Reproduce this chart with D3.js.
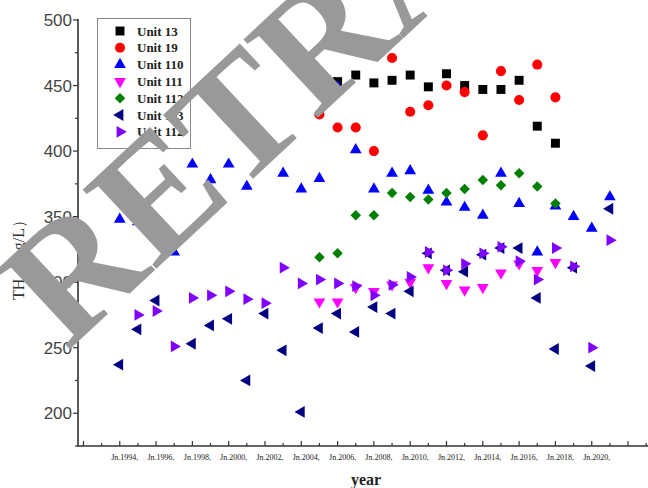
<!DOCTYPE html>
<html>
<head>
<meta charset="utf-8">
<script src="https://cdn.jsdelivr.net/npm/d3@7"></script>
<style>
    body { margin: 0; background: #fff; }
    #chart-area { width: 648px; height: 488px; }
</style>
</head>
<body>
<div id="chart-area"></div>
<script>
/* * * * * * * * * * * * * *
*      TH scatter plot     *
* * * * * * * * * * * * * */

const seriesNames = ["Unit 13", "Unit 19", "Unit 110", "Unit 111", "Unit 112", "Unit 113", "Unit 112"];
const seriesColors = ["#000000", "#ff0000", "#0000ff", "#ff00ff", "#008000", "#000080", "#8000ff"];
const seriesShapes = ["square", "circle", "up", "down", "diamond", "left", "right"];

const years13 = [2006, 2007, 2008, 2009, 2010, 2011, 2012, 2013, 2014, 2015, 2016, 2017, 2018];
const values13 = [453, 458, 452, 454, 458, 449, 459, 450, 447, 447, 454, 419, 406];

const years19 = [2005, 2006, 2007, 2008, 2009, 2010, 2011, 2012, 2013, 2014, 2015, 2016, 2017, 2018];
const values19 = [428, 418, 418, 400, 471, 430, 435, 450, 445, 412, 461, 439, 466, 441];

const years110 = [1994, 1995, 1997, 1998, 1999, 2000, 2001, 2002, 2003, 2004, 2005, 2006, 2007, 2008, 2009, 2010, 2011, 2012, 2013, 2014, 2015, 2016, 2017, 2018, 2019, 2020, 2021];
const values110 = [348, 346, 323, 390, 378, 390, 373, 401, 383, 371, 379, 449, 401, 371, 383, 385, 370, 361, 357, 351, 383, 360, 323, 358, 350, 341, 365];

const years111 = [2005, 2006, 2007, 2008, 2009, 2010, 2011, 2012, 2013, 2014, 2015, 2016, 2017, 2018];
const values111 = [285, 285, 296, 293, 298, 300, 311, 299, 294, 296, 307, 314, 309, 315];

const years112 = [2005, 2006, 2007, 2008, 2009, 2010, 2011, 2012, 2013, 2014, 2015, 2016, 2017, 2018];
const values112 = [319, 322, 351, 351, 368, 365, 363, 368, 371, 378, 374, 383, 373, 360];

const years113 = [1994, 1995, 1996, 1998, 1999, 2000, 2001, 2002, 2003, 2004, 2005, 2006, 2007, 2008, 2009, 2010, 2011, 2012, 2013, 2014, 2015, 2016, 2017, 2018, 2019, 2020, 2021];
const values113 = [237, 264, 286, 253, 267, 272, 225, 276, 248, 201, 265, 276, 262, 281, 276, 293, 322, 309, 308, 321, 326, 326, 288, 249, 311, 236, 356];

const years112b = [1995, 1996, 1997, 1998, 1999, 2000, 2001, 2002, 2003, 2004, 2005, 2006, 2007, 2008, 2009, 2010, 2011, 2012, 2013, 2014, 2015, 2016, 2017, 2018, 2019, 2020, 2021];
const values112b = [275, 278, 251, 288, 290, 293, 287, 284, 311, 299, 302, 299, 297, 290, 298, 304, 323, 309, 314, 322, 327, 316, 302, 326, 312, 250, 332];

const yTicks = [200, 250, 300, 350, 400, 450, 500];
const xLabelYears = [1994, 1996, 1998, 2000, 2002, 2004, 2006, 2008, 2010, 2012, 2014, 2016, 2018, 2020];

class ScatterVis {
    constructor(parentElement) {
        this.parentElement = parentElement;
        this.initVis();
    }

    initVis() {
        let vis = this;

        vis.width = 648;
        vis.height = 488;

        vis.svg = d3.select("#" + vis.parentElement).append("svg")
            .attr("width", vis.width)
            .attr("height", vis.height);

        // scales, fitted to the axis frame of the picture
        vis.x = d3.scaleLinear().domain([1991.7, 2023.1]).range([78, 648]);
        vis.y = d3.scaleLinear().domain([175, 500]).range([446, 20]);

        vis.wrangleData();
    }

    wrangleData() {
        let vis = this;

        let allYears = [years13, years19, years110, years111, years112, years113, years112b];
        let allValues = [values13, values19, values110, values111, values112, values113, values112b];

        vis.series = seriesNames.map((name, i) => ({
            name: name,
            color: seriesColors[i],
            shape: seriesShapes[i],
            points: allYears[i].map((yr, j) => ({year: yr, value: allValues[i][j]}))
        }));

        vis.updateVis();
    }

    symbolPath(shape) {
        if (shape === "square") return d3.symbol(d3.symbolSquare, 80)();
        if (shape === "circle") return d3.symbol(d3.symbolCircle, 80)();
        if (shape === "diamond") return d3.symbol(d3.symbolSquare, 55)();
        return d3.symbol(d3.symbolTriangle, 60)();
    }

    symbolRotate(shape) {
        // triangles all start pointing up
        return {down: 180, left: -90, right: 90, diamond: 45}[shape] || 0;
    }

    updateVis() {
        let vis = this;
        let axisColor = "#333";

        // y axis
        let yAxis = vis.svg.append("g").attr("class", "y-axis");
        yAxis.append("line")
            .attr("x1", 78).attr("x2", 78)
            .attr("y1", vis.y(500) - 1).attr("y2", vis.y(175))
            .attr("stroke", axisColor).attr("stroke-width", 1.6);

        yAxis.selectAll(".minor")
            .data(d3.range(175, 501, 25))
            .enter().append("line")
            .attr("x1", d => d % 50 === 0 ? 73 : 75).attr("x2", 78)
            .attr("y1", d => vis.y(d)).attr("y2", d => vis.y(d))
            .attr("stroke", axisColor).attr("stroke-width", 1.2);

        yAxis.selectAll(".ylab")
            .data(yTicks)
            .enter().append("text")
            .attr("x", 72)
            .attr("y", d => vis.y(d) + 6)
            .attr("text-anchor", "end")
            .attr("font-family", "Liberation Sans, Arial, sans-serif")
            .attr("font-size", 17)
            .attr("fill", "#444")
            .text(d => d);

        // x axis
        let xAxis = vis.svg.append("g").attr("class", "x-axis");
        xAxis.append("line")
            .attr("x1", 77).attr("x2", 648)
            .attr("y1", 446).attr("y2", 446)
            .attr("stroke", axisColor).attr("stroke-width", 1.6);

        xAxis.selectAll(".xtick")
            .data(d3.range(1992, 2024))
            .enter().append("line")
            .attr("x1", d => vis.x(d)).attr("x2", d => vis.x(d))
            .attr("y1", 446).attr("y2", d => d % 2 === 0 ? 441 : 443)
            .attr("stroke", axisColor).attr("stroke-width", 1.2);

        xAxis.selectAll(".xlab")
            .data(xLabelYears)
            .enter().append("text")
            .attr("x", d => vis.x(d) + 5)
            .attr("y", 460)
            .attr("text-anchor", "middle")
            .attr("font-family", "Liberation Serif, Times New Roman, serif")
            .attr("font-size", 8)
            .attr("fill", "#222")
            .text(d => "Jn." + d + ",");

        // axis titles
        vis.svg.append("text")
            .attr("x", 366).attr("y", 485)
            .attr("text-anchor", "middle")
            .attr("font-family", "Liberation Serif, Times New Roman, serif")
            .attr("font-weight", "bold")
            .attr("font-size", 16)
            .attr("fill", "#222")
            .text("year");

        vis.svg.append("text")
            .attr("transform", "translate(24,256) rotate(-90)")
            .attr("text-anchor", "middle")
            .attr("font-family", "Liberation Serif, Times New Roman, serif")
            .attr("font-size", 16)
            .attr("fill", "#333")
            .text("TH（mg/L）");

        // markers
        vis.series.forEach(s => {
            vis.svg.append("g")
                .selectAll("path")
                .data(s.points)
                .enter().append("path")
                .attr("d", vis.symbolPath(s.shape))
                .attr("transform", d => `translate(${vis.x(d.year)},${vis.y(d.value)}) rotate(${vis.symbolRotate(s.shape)})`)
                .attr("fill", s.color);
        });

        // legend
        let legend = vis.svg.append("g").attr("class", "legend");
        legend.append("rect")
            .attr("x", 97.5).attr("y", 18.5)
            .attr("width", 93).attr("height", 130)
            .attr("fill", "#fff")
            .attr("stroke", "#888");

        let rows = legend.selectAll(".row")
            .data(vis.series)
            .enter().append("g")
            .attr("transform", (d, i) => `translate(0, ${31 + i * 16.8})`);

        rows.append("path")
            .attr("d", d => vis.symbolPath(d.shape))
            .attr("transform", d => `translate(120,0) rotate(${vis.symbolRotate(d.shape)})`)
            .attr("fill", d => d.color);

        rows.append("text")
            .attr("x", 137)
            .attr("y", 4.5)
            .attr("font-family", "Liberation Serif, Times New Roman, serif")
            .attr("font-weight", "bold")
            .attr("font-size", 13)
            .attr("fill", "#222")
            .text(d => d.name);

        // retraction watermark on top of everything (it runs off the top edge, as in the original)
        vis.svg.append("text")
            .attr("transform", "translate(67,352) rotate(-43)")
            .attr("font-family", "Liberation Serif, Times New Roman, serif")
            .attr("font-weight", "bold")
            .attr("font-size", 165)
            .attr("fill", "#999")
            .text("RETRACTED");
    }
}

new ScatterVis("chart-area");
</script>
</body>
</html>
